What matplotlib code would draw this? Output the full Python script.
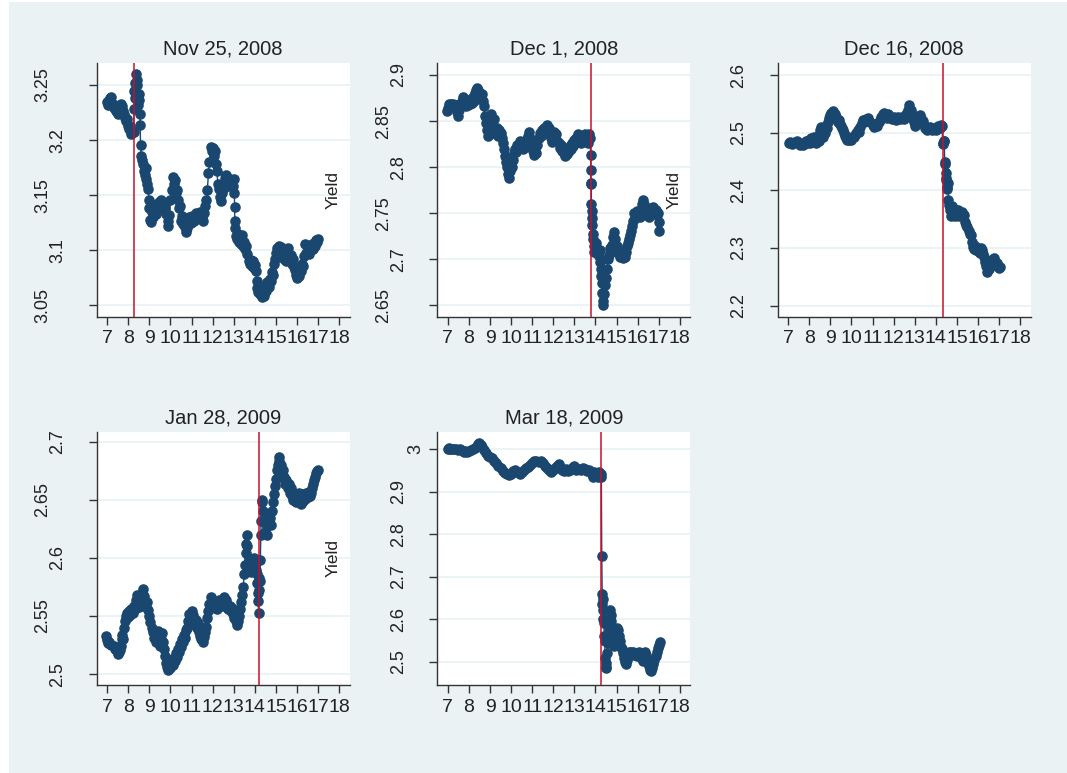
import matplotlib
matplotlib.use("Agg")
import matplotlib.pyplot as plt
from matplotlib.patches import Rectangle
from matplotlib.transforms import blended_transform_factory, offset_copy

plt.rcParams['font.family'] = ['Liberation Sans', 'DejaVu Sans']

titles = ["Nov 25, 2008", "Dec 1, 2008", "Dec 16, 2008", "Jan 28, 2009", "Mar 18, 2009"]
event_hours = [8.25, 13.77, 14.34, 14.22, 14.27]
x_ticks = list(range(7, 19))

# (hour of day, yield) readings for each announcement day
nov25 = [
    (7.0, 3.235), (7.05, 3.232), (7.1, 3.236), (7.15, 3.238), (7.2, 3.239), (7.25, 3.233),
    (7.3, 3.229), (7.35, 3.231), (7.4, 3.226), (7.45, 3.228), (7.5, 3.224), (7.55, 3.229),
    (7.6, 3.230), (7.65, 3.233), (7.7, 3.231), (7.75, 3.226), (7.8, 3.224), (7.85, 3.220),
    (7.9, 3.217), (7.95, 3.219), (8.0, 3.213), (8.05, 3.210), (8.1, 3.213), (8.15, 3.206),
    (8.2, 3.208), (8.25, 3.207), (8.27, 3.228), (8.29, 3.245), (8.31, 3.238), (8.33, 3.252),
    (8.36, 3.260), (8.39, 3.255), (8.42, 3.250), (8.45, 3.240), (8.47, 3.232), (8.5, 3.242),
    (8.52, 3.236), (8.54, 3.224), (8.56, 3.214), (8.58, 3.196), (8.62, 3.186), (8.66, 3.182),
    (8.7, 3.178), (8.74, 3.172), (8.78, 3.168), (8.82, 3.175), (8.86, 3.165), (8.9, 3.160),
    (8.94, 3.156), (8.97, 3.146), (9.0, 3.138), (9.03, 3.128), (9.07, 3.126), (9.12, 3.135),
    (9.17, 3.130), (9.22, 3.138), (9.28, 3.141), (9.33, 3.133), (9.38, 3.138), (9.44, 3.144),
    (9.5, 3.140), (9.56, 3.146), (9.62, 3.138), (9.68, 3.143), (9.74, 3.138), (9.8, 3.133),
    (9.86, 3.127), (9.9, 3.122), (9.95, 3.132), (10.0, 3.146), (10.05, 3.155), (10.1, 3.167),
    (10.15, 3.160), (10.2, 3.164), (10.25, 3.152), (10.3, 3.155), (10.35, 3.146), (10.4, 3.138),
    (10.45, 3.140), (10.5, 3.127), (10.55, 3.131), (10.6, 3.124), (10.65, 3.128), (10.7, 3.121),
    (10.75, 3.117), (10.8, 3.120), (10.85, 3.126), (10.9, 3.130), (10.95, 3.125), (11.0, 3.131),
    (11.1, 3.127), (11.2, 3.134), (11.3, 3.129), (11.4, 3.135), (11.5, 3.130), (11.55, 3.127),
    (11.6, 3.134), (11.65, 3.140), (11.7, 3.146), (11.75, 3.155), (11.8, 3.170), (11.85, 3.180),
    (11.9, 3.194), (11.95, 3.190), (12.0, 3.193), (12.05, 3.186), (12.1, 3.190), (12.15, 3.178),
    (12.2, 3.172), (12.25, 3.160), (12.3, 3.156), (12.35, 3.148), (12.4, 3.145), (12.45, 3.152),
    (12.5, 3.160), (12.55, 3.157), (12.6, 3.166), (12.65, 3.168), (12.7, 3.162), (12.75, 3.158),
    (12.8, 3.165), (12.85, 3.160), (12.9, 3.164), (12.95, 3.158), (13.0, 3.165), (13.03, 3.152),
    (13.04, 3.139), (13.05, 3.127), (13.08, 3.120), (13.12, 3.113), (13.16, 3.110), (13.2, 3.115),
    (13.25, 3.108), (13.3, 3.112), (13.35, 3.106), (13.4, 3.114), (13.45, 3.104), (13.5, 3.108),
    (13.55, 3.101), (13.6, 3.104), (13.65, 3.097), (13.7, 3.090), (13.75, 3.088), (13.8, 3.091),
    (13.85, 3.086), (13.9, 3.090), (13.95, 3.084), (14.0, 3.087), (14.05, 3.081), (14.08, 3.072),
    (14.12, 3.066), (14.16, 3.062), (14.2, 3.068), (14.25, 3.060), (14.3, 3.065), (14.35, 3.058),
    (14.4, 3.064), (14.45, 3.059), (14.5, 3.068), (14.55, 3.063), (14.6, 3.071), (14.65, 3.067),
    (14.7, 3.074), (14.75, 3.072), (14.8, 3.080), (14.85, 3.078), (14.9, 3.088), (14.95, 3.092),
    (15.0, 3.098), (15.05, 3.102), (15.1, 3.096), (15.15, 3.104), (15.2, 3.099), (15.25, 3.103),
    (15.3, 3.094), (15.35, 3.101), (15.4, 3.092), (15.45, 3.098), (15.5, 3.090), (15.55, 3.102),
    (15.6, 3.095), (15.65, 3.091), (15.7, 3.096), (15.75, 3.088), (15.8, 3.092), (15.85, 3.085),
    (15.9, 3.082), (15.95, 3.078), (16.0, 3.075), (16.05, 3.080), (16.1, 3.077), (16.15, 3.083),
    (16.2, 3.081), (16.25, 3.088), (16.3, 3.086), (16.35, 3.095), (16.4, 3.106), (16.45, 3.098),
    (16.5, 3.103), (16.55, 3.097), (16.6, 3.104), (16.65, 3.100), (16.7, 3.106), (16.75, 3.101),
    (16.8, 3.107), (16.85, 3.104), (16.9, 3.109), (16.95, 3.108), (17.0, 3.110),
]

dec1 = [
    (6.95, 2.861), (7.0, 2.864), (7.05, 2.868), (7.1, 2.866), (7.15, 2.869), (7.2, 2.866),
    (7.25, 2.868), (7.3, 2.865), (7.35, 2.867), (7.4, 2.864), (7.45, 2.860), (7.5, 2.856),
    (7.55, 2.862), (7.6, 2.868), (7.65, 2.872), (7.7, 2.876), (7.75, 2.873), (7.8, 2.869),
    (7.85, 2.866), (7.9, 2.870), (7.95, 2.867), (8.0, 2.872), (8.05, 2.868), (8.1, 2.874),
    (8.15, 2.870), (8.2, 2.876), (8.25, 2.872), (8.3, 2.880), (8.35, 2.884), (8.4, 2.886),
    (8.45, 2.884), (8.5, 2.880), (8.55, 2.876), (8.6, 2.879), (8.65, 2.872), (8.7, 2.866),
    (8.75, 2.856), (8.8, 2.848), (8.85, 2.840), (8.9, 2.834), (8.95, 2.845), (9.0, 2.852),
    (9.05, 2.858), (9.1, 2.850), (9.15, 2.845), (9.2, 2.852), (9.25, 2.842), (9.3, 2.836),
    (9.35, 2.843), (9.4, 2.834), (9.45, 2.840), (9.5, 2.837), (9.55, 2.832), (9.6, 2.826),
    (9.65, 2.820), (9.7, 2.812), (9.75, 2.806), (9.8, 2.800), (9.85, 2.793), (9.9, 2.788),
    (9.95, 2.796), (10.0, 2.805), (10.05, 2.800), (10.1, 2.808), (10.15, 2.815), (10.2, 2.820),
    (10.25, 2.816), (10.3, 2.824), (10.35, 2.820), (10.4, 2.828), (10.45, 2.822), (10.5, 2.826),
    (10.55, 2.820), (10.6, 2.826), (10.65, 2.822), (10.7, 2.830), (10.75, 2.826), (10.8, 2.834),
    (10.85, 2.838), (10.9, 2.832), (10.95, 2.826), (11.0, 2.822), (11.05, 2.818), (11.1, 2.813),
    (11.15, 2.818), (11.2, 2.815), (11.25, 2.824), (11.3, 2.832), (11.35, 2.837), (11.4, 2.834),
    (11.45, 2.840), (11.5, 2.836), (11.55, 2.842), (11.6, 2.838), (11.65, 2.844), (11.7, 2.846),
    (11.75, 2.840), (11.8, 2.843), (11.85, 2.836), (11.9, 2.832), (11.95, 2.827), (12.0, 2.834),
    (12.05, 2.838), (12.1, 2.832), (12.15, 2.836), (12.2, 2.828), (12.25, 2.826), (12.3, 2.821),
    (12.35, 2.824), (12.4, 2.818), (12.45, 2.821), (12.5, 2.815), (12.55, 2.812), (12.6, 2.818),
    (12.65, 2.814), (12.7, 2.820), (12.75, 2.817), (12.8, 2.823), (12.85, 2.820), (12.9, 2.826),
    (12.95, 2.823), (13.0, 2.829), (13.05, 2.826), (13.1, 2.832), (13.15, 2.836), (13.2, 2.830),
    (13.25, 2.833), (13.3, 2.826), (13.35, 2.830), (13.4, 2.834), (13.45, 2.829), (13.5, 2.836),
    (13.55, 2.828), (13.6, 2.834), (13.65, 2.826), (13.7, 2.836), (13.75, 2.832), (13.77, 2.813),
    (13.78, 2.797), (13.79, 2.783), (13.8, 2.782), (13.81, 2.760), (13.82, 2.752), (13.84, 2.745),
    (13.86, 2.737), (13.88, 2.728), (13.9, 2.722), (13.92, 2.715), (13.95, 2.708), (14.0, 2.712),
    (14.05, 2.718), (14.1, 2.706), (14.15, 2.704), (14.2, 2.710), (14.22, 2.697), (14.25, 2.690),
    (14.28, 2.682), (14.3, 2.674), (14.32, 2.664), (14.35, 2.655), (14.38, 2.651), (14.42, 2.662),
    (14.45, 2.672), (14.5, 2.680), (14.55, 2.690), (14.6, 2.700), (14.65, 2.705), (14.7, 2.712),
    (14.75, 2.708), (14.8, 2.716), (14.85, 2.724), (14.9, 2.730), (14.95, 2.722), (15.0, 2.715),
    (15.05, 2.710), (15.1, 2.706), (15.15, 2.703), (15.2, 2.708), (15.25, 2.704), (15.3, 2.702),
    (15.35, 2.706), (15.4, 2.703), (15.45, 2.708), (15.5, 2.714), (15.55, 2.718), (15.6, 2.722),
    (15.65, 2.726), (15.7, 2.731), (15.75, 2.736), (15.8, 2.742), (15.85, 2.750), (15.9, 2.745),
    (15.95, 2.752), (16.0, 2.747), (16.05, 2.750), (16.1, 2.746), (16.15, 2.754), (16.2, 2.760),
    (16.25, 2.764), (16.3, 2.760), (16.35, 2.752), (16.4, 2.756), (16.45, 2.748), (16.5, 2.752),
    (16.55, 2.746), (16.6, 2.750), (16.65, 2.756), (16.7, 2.752), (16.75, 2.757), (16.8, 2.750),
    (16.85, 2.754), (16.9, 2.748), (16.95, 2.750), (17.0, 2.740), (17.03, 2.731),
]

dec16 = [
    (7.05, 2.482), (7.1, 2.484), (7.2, 2.481), (7.3, 2.484), (7.4, 2.486), (7.5, 2.482),
    (7.55, 2.478), (7.6, 2.480), (7.7, 2.478), (7.8, 2.482), (7.85, 2.486), (7.9, 2.483),
    (8.0, 2.487), (8.05, 2.483), (8.1, 2.490), (8.15, 2.486), (8.2, 2.493), (8.25, 2.487),
    (8.3, 2.482), (8.35, 2.490), (8.4, 2.494), (8.45, 2.486), (8.5, 2.504), (8.55, 2.510),
    (8.6, 2.498), (8.65, 2.492), (8.7, 2.506), (8.75, 2.500), (8.8, 2.512), (8.85, 2.508),
    (8.9, 2.518), (8.95, 2.526), (9.0, 2.530), (9.05, 2.534), (9.1, 2.538), (9.15, 2.535),
    (9.2, 2.532), (9.25, 2.528), (9.3, 2.524), (9.35, 2.519), (9.4, 2.522), (9.45, 2.515),
    (9.5, 2.511), (9.55, 2.508), (9.6, 2.504), (9.65, 2.499), (9.7, 2.494), (9.75, 2.490),
    (9.8, 2.488), (9.85, 2.492), (9.9, 2.487), (9.95, 2.491), (10.0, 2.488), (10.1, 2.492),
    (10.15, 2.496), (10.2, 2.500), (10.3, 2.505), (10.35, 2.502), (10.4, 2.510), (10.5, 2.517),
    (10.55, 2.522), (10.6, 2.519), (10.7, 2.524), (10.75, 2.520), (10.8, 2.525), (10.9, 2.518),
    (11.0, 2.514), (11.05, 2.510), (11.1, 2.515), (11.2, 2.512), (11.3, 2.518), (11.35, 2.522),
    (11.4, 2.527), (11.5, 2.532), (11.55, 2.534), (11.6, 2.530), (11.7, 2.526), (11.75, 2.532),
    (11.8, 2.528), (11.9, 2.523), (12.0, 2.527), (12.1, 2.522), (12.2, 2.528), (12.3, 2.523),
    (12.4, 2.527), (12.5, 2.524), (12.6, 2.532), (12.7, 2.540), (12.75, 2.548), (12.8, 2.540),
    (12.85, 2.532), (12.9, 2.524), (12.95, 2.518), (13.0, 2.512), (13.05, 2.516), (13.1, 2.522),
    (13.2, 2.528), (13.25, 2.531), (13.3, 2.526), (13.4, 2.520), (13.45, 2.513), (13.5, 2.508),
    (13.6, 2.505), (13.7, 2.510), (13.8, 2.505), (13.9, 2.509), (14.0, 2.505), (14.1, 2.511),
    (14.2, 2.508), (14.25, 2.514), (14.3, 2.512), (14.32, 2.483), (14.35, 2.481), (14.38, 2.485),
    (14.4, 2.486), (14.42, 2.450), (14.44, 2.446), (14.46, 2.422), (14.48, 2.430), (14.5, 2.418),
    (14.52, 2.405), (14.55, 2.402), (14.58, 2.412), (14.6, 2.384), (14.63, 2.375), (14.66, 2.366),
    (14.7, 2.356), (14.75, 2.372), (14.8, 2.362), (14.85, 2.368), (14.9, 2.355), (14.95, 2.366),
    (15.0, 2.360), (15.05, 2.365), (15.1, 2.356), (15.15, 2.362), (15.2, 2.358), (15.25, 2.362),
    (15.3, 2.355), (15.35, 2.358), (15.4, 2.345), (15.45, 2.340), (15.5, 2.336), (15.55, 2.330),
    (15.6, 2.325), (15.65, 2.322), (15.7, 2.310), (15.75, 2.302), (15.8, 2.298), (15.85, 2.303),
    (15.9, 2.297), (15.95, 2.300), (16.0, 2.294), (16.05, 2.298), (16.1, 2.292), (16.15, 2.300),
    (16.2, 2.296), (16.25, 2.290), (16.3, 2.285), (16.35, 2.275), (16.4, 2.268), (16.45, 2.258),
    (16.5, 2.264), (16.55, 2.270), (16.6, 2.276), (16.65, 2.270), (16.7, 2.280), (16.75, 2.283),
    (16.8, 2.276), (16.85, 2.270), (16.9, 2.274), (16.95, 2.268), (17.0, 2.266), (17.05, 2.267),
]

jan28 = [
    (6.95, 2.533), (6.98, 2.529), (7.02, 2.527), (7.1, 2.528), (7.15, 2.526), (7.2, 2.525),
    (7.3, 2.524), (7.35, 2.522), (7.4, 2.523), (7.45, 2.520), (7.5, 2.517), (7.55, 2.519),
    (7.6, 2.521), (7.65, 2.524), (7.7, 2.530), (7.72, 2.534), (7.75, 2.530), (7.8, 2.540),
    (7.85, 2.546), (7.9, 2.550), (7.95, 2.553), (8.0, 2.549), (8.05, 2.554), (8.1, 2.551),
    (8.15, 2.556), (8.2, 2.553), (8.25, 2.559), (8.3, 2.556), (8.35, 2.564), (8.4, 2.568),
    (8.45, 2.562), (8.5, 2.558), (8.55, 2.565), (8.6, 2.562), (8.65, 2.570), (8.7, 2.573),
    (8.75, 2.567), (8.8, 2.563), (8.85, 2.558), (8.9, 2.562), (8.95, 2.555), (9.0, 2.550),
    (9.05, 2.545), (9.1, 2.540), (9.15, 2.536), (9.2, 2.531), (9.25, 2.536), (9.3, 2.528),
    (9.35, 2.532), (9.4, 2.537), (9.45, 2.530), (9.5, 2.524), (9.55, 2.530), (9.6, 2.535),
    (9.65, 2.528), (9.7, 2.522), (9.75, 2.516), (9.8, 2.510), (9.85, 2.506), (9.9, 2.504),
    (9.95, 2.508), (10.0, 2.505), (10.05, 2.511), (10.1, 2.508), (10.15, 2.514), (10.2, 2.511),
    (10.25, 2.518), (10.3, 2.515), (10.35, 2.522), (10.4, 2.519), (10.45, 2.526), (10.5, 2.523),
    (10.55, 2.530), (10.6, 2.528), (10.65, 2.534), (10.7, 2.531), (10.75, 2.538), (10.8, 2.540),
    (10.85, 2.546), (10.9, 2.552), (10.95, 2.549), (11.0, 2.554), (11.05, 2.551), (11.1, 2.547),
    (11.15, 2.542), (11.2, 2.547), (11.25, 2.540), (11.3, 2.544), (11.35, 2.536), (11.4, 2.533),
    (11.45, 2.530), (11.5, 2.534), (11.55, 2.528), (11.6, 2.532), (11.65, 2.536), (11.7, 2.541),
    (11.75, 2.548), (11.8, 2.554), (11.85, 2.560), (11.9, 2.566), (11.95, 2.562), (12.0, 2.558),
    (12.05, 2.562), (12.1, 2.557), (12.15, 2.560), (12.2, 2.556), (12.25, 2.560), (12.3, 2.564),
    (12.35, 2.560), (12.4, 2.563), (12.45, 2.559), (12.5, 2.562), (12.55, 2.566), (12.6, 2.562),
    (12.65, 2.564), (12.7, 2.560), (12.75, 2.556), (12.8, 2.559), (12.85, 2.554), (12.9, 2.557),
    (12.95, 2.552), (13.0, 2.548), (13.05, 2.552), (13.1, 2.546), (13.15, 2.542), (13.2, 2.546),
    (13.25, 2.550), (13.3, 2.556), (13.35, 2.562), (13.4, 2.568), (13.45, 2.575), (13.5, 2.586),
    (13.53, 2.594), (13.56, 2.604), (13.6, 2.612), (13.62, 2.620), (13.64, 2.610), (13.66, 2.596),
    (13.7, 2.590), (13.73, 2.600), (13.76, 2.594), (13.8, 2.588), (13.85, 2.598), (13.9, 2.590),
    (13.95, 2.600), (14.0, 2.594), (14.05, 2.590), (14.08, 2.598), (14.1, 2.586), (14.12, 2.578),
    (14.14, 2.570), (14.16, 2.563), (14.18, 2.553), (14.2, 2.572), (14.22, 2.583), (14.24, 2.580),
    (14.26, 2.598), (14.28, 2.620), (14.3, 2.632), (14.32, 2.650), (14.36, 2.648), (14.4, 2.640),
    (14.43, 2.633), (14.46, 2.630), (14.5, 2.622), (14.55, 2.630), (14.6, 2.620), (14.65, 2.628),
    (14.7, 2.634), (14.75, 2.628), (14.8, 2.640), (14.85, 2.648), (14.9, 2.655), (14.95, 2.662),
    (15.0, 2.668), (15.05, 2.676), (15.1, 2.680), (15.13, 2.687), (15.17, 2.683), (15.2, 2.677),
    (15.25, 2.680), (15.3, 2.672), (15.35, 2.676), (15.4, 2.670), (15.45, 2.664), (15.5, 2.667),
    (15.55, 2.660), (15.6, 2.664), (15.65, 2.656), (15.7, 2.660), (15.75, 2.653), (15.8, 2.650),
    (15.85, 2.656), (15.9, 2.652), (15.95, 2.648), (16.0, 2.654), (16.05, 2.651), (16.1, 2.656),
    (16.15, 2.650), (16.2, 2.646), (16.25, 2.652), (16.3, 2.649), (16.35, 2.655), (16.4, 2.651),
    (16.45, 2.656), (16.5, 2.652), (16.55, 2.657), (16.6, 2.653), (16.65, 2.656), (16.7, 2.660),
    (16.75, 2.664), (16.8, 2.667), (16.85, 2.670), (16.9, 2.673), (16.95, 2.675), (16.98, 2.676),
]

mar18 = [
    (7.0, 3.002), (7.05, 3.003), (7.1, 3.001), (7.2, 3.002), (7.3, 3.000), (7.4, 3.001),
    (7.5, 2.999), (7.6, 3.000), (7.7, 2.997), (7.75, 2.994), (7.8, 2.996), (7.9, 2.993),
    (8.0, 2.996), (8.1, 2.998), (8.2, 3.001), (8.3, 3.004), (8.4, 3.008), (8.45, 3.012),
    (8.5, 3.016), (8.55, 3.010), (8.6, 3.006), (8.7, 2.998), (8.8, 2.992), (8.9, 2.985),
    (9.0, 2.981), (9.1, 2.979), (9.2, 2.973), (9.3, 2.968), (9.4, 2.962), (9.5, 2.956),
    (9.6, 2.950), (9.7, 2.945), (9.8, 2.942), (9.9, 2.940), (10.0, 2.943), (10.1, 2.948),
    (10.2, 2.951), (10.3, 2.946), (10.4, 2.942), (10.5, 2.947), (10.6, 2.951), (10.7, 2.955),
    (10.8, 2.958), (10.9, 2.964), (11.0, 2.968), (11.1, 2.972), (11.2, 2.973), (11.3, 2.971),
    (11.4, 2.972), (11.5, 2.968), (11.6, 2.962), (11.7, 2.956), (11.8, 2.951), (11.9, 2.947),
    (12.0, 2.952), (12.1, 2.956), (12.2, 2.962), (12.25, 2.965), (12.3, 2.958), (12.4, 2.952),
    (12.5, 2.950), (12.6, 2.953), (12.7, 2.950), (12.8, 2.952), (12.9, 2.956), (13.0, 2.961),
    (13.05, 2.955), (13.1, 2.951), (13.2, 2.954), (13.3, 2.952), (13.4, 2.956), (13.5, 2.954),
    (13.6, 2.950), (13.7, 2.951), (13.8, 2.947), (13.85, 2.941), (13.9, 2.934), (13.95, 2.946),
    (14.0, 2.938), (14.05, 2.944), (14.1, 2.934), (14.15, 2.946), (14.2, 2.938), (14.25, 2.942),
    (14.28, 2.936), (14.3, 2.750), (14.32, 2.660), (14.3, 2.637), (14.34, 2.648), (14.36, 2.622),
    (14.38, 2.600), (14.4, 2.592), (14.42, 2.560), (14.44, 2.548), (14.46, 2.510), (14.48, 2.498),
    (14.5, 2.486), (14.52, 2.488), (14.55, 2.520), (14.58, 2.545), (14.62, 2.552), (14.66, 2.575),
    (14.7, 2.622), (14.73, 2.610), (14.76, 2.596), (14.8, 2.570), (14.83, 2.550), (14.86, 2.538),
    (14.9, 2.552), (14.95, 2.562), (15.0, 2.580), (15.05, 2.574), (15.1, 2.560), (15.15, 2.548),
    (15.2, 2.535), (15.25, 2.530), (15.3, 2.520), (15.35, 2.510), (15.4, 2.500), (15.45, 2.494),
    (15.5, 2.505), (15.55, 2.516), (15.6, 2.522), (15.65, 2.515), (15.7, 2.524), (15.75, 2.518),
    (15.8, 2.524), (15.85, 2.515), (15.9, 2.520), (15.95, 2.514), (16.0, 2.518), (16.05, 2.524),
    (16.1, 2.518), (16.15, 2.512), (16.2, 2.506), (16.25, 2.502), (16.3, 2.510), (16.35, 2.524),
    (16.4, 2.515), (16.45, 2.506), (16.5, 2.498), (16.55, 2.490), (16.6, 2.480), (16.65, 2.478),
    (16.7, 2.486), (16.75, 2.496), (16.8, 2.505), (16.85, 2.514), (16.9, 2.522), (16.95, 2.532),
    (17.0, 2.540), (17.05, 2.547),
]

y_ticks = [
    [3.05, 3.1, 3.15, 3.2, 3.25],
    [2.65, 2.7, 2.75, 2.8, 2.85, 2.9],
    [2.2, 2.3, 2.4, 2.5, 2.6],
    [2.5, 2.55, 2.6, 2.65, 2.7],
    [2.5, 2.6, 2.7, 2.8, 2.9, 3.0],
]
y_tick_labels = [
    ["3.05", "3.1", "3.15", "3.2", "3.25"],
    ["2.65", "2.7", "2.75", "2.8", "2.85", "2.9"],
    ["2.2", "2.3", "2.4", "2.5", "2.6"],
    ["2.5", "2.55", "2.6", "2.65", "2.7"],
    ["2.5", "2.6", "2.7", "2.8", "2.9", "3"],
]
y_limits = [(3.04, 3.27), (2.638, 2.913), (2.181, 2.621), (2.4905, 2.7086), (2.445, 3.0416)]

series = [nov25, dec1, dec16, jan28, mar18]

W, H = 1067, 773
fig = plt.figure(figsize=(W / 100, H / 100), dpi=100, facecolor='#EAF2F3')
fig.patches.append(Rectangle((0, 0), 9 / W, 1, transform=fig.transFigure,
                             facecolor='white', edgecolor='none', zorder=-5))
fig.patches.append(Rectangle((0, (H - 2) / H), 1, 2 / H, transform=fig.transFigure,
                             facecolor='white', edgecolor='none', zorder=-5))

lefts = [96.7, 437.3, 777.7, 96.7, 437.3]
tops = [63, 63, 63, 431.7, 431.7]
aw, ah = 253, 253.5
# distance (pixels) from the y axis to the centre of a tick label, by label length
label_offset = {1: 21, 2: 30, 3: 39, 4: 54}

navy = '#1A476F'
for i in range(5):
    ax = fig.add_axes([lefts[i] / W, (H - tops[i] - ah) / H, aw / W, ah / H])
    ax.set_facecolor('white')
    hrs = [p[0] for p in series[i]]
    yld = [p[1] for p in series[i]]
    ax.plot(hrs, yld, color=navy, lw=1.0, marker='o', ms=6.6,
            mec=navy, mfc=navy, zorder=3)
    ax.axvline(event_hours[i], color='#C8102E', lw=1.1, zorder=4)
    ax.set_xlim(6.5, 18.5)
    ax.set_ylim(*y_limits[i])
    ax.set_xticks(x_ticks)
    ax.set_xticklabels([str(t) for t in x_ticks])
    ax.set_yticks(y_ticks[i])
    ax.set_yticklabels([])
    base = blended_transform_factory(ax.transAxes, ax.transData)
    for val, lab in zip(y_ticks[i], y_tick_labels[i]):
        tr = offset_copy(base, fig=fig, x=-label_offset[len(lab)], y=0, units='dots')
        ax.text(0, val, lab, transform=tr, rotation=90, ha='center', va='center',
                fontsize=13, color='#222222', rotation_mode='anchor')
    ax.grid(axis='y', color='#EAF2F3', lw=1.3, zorder=1)
    ax.set_axisbelow(True)
    for s in ['top', 'right']:
        ax.spines[s].set_visible(False)
    for s in ['left', 'bottom']:
        ax.spines[s].set_color('#333333')
        ax.spines[s].set_linewidth(1.0)
    ax.tick_params(axis='both', colors='#333333', labelcolor='#222222',
                   length=6, width=1.0, pad=4)
    ax.tick_params(axis='x', labelsize=14)
    ax.set_title(titles[i], fontsize=14.5, color='#222222', pad=6)
    ax.set_ylabel('Yield', fontsize=12.5, color='#222222')
    ax.yaxis.set_label_coords(-0.381, 0.5)

fig.savefig('out.png', dpi=100, facecolor=fig.get_facecolor())
